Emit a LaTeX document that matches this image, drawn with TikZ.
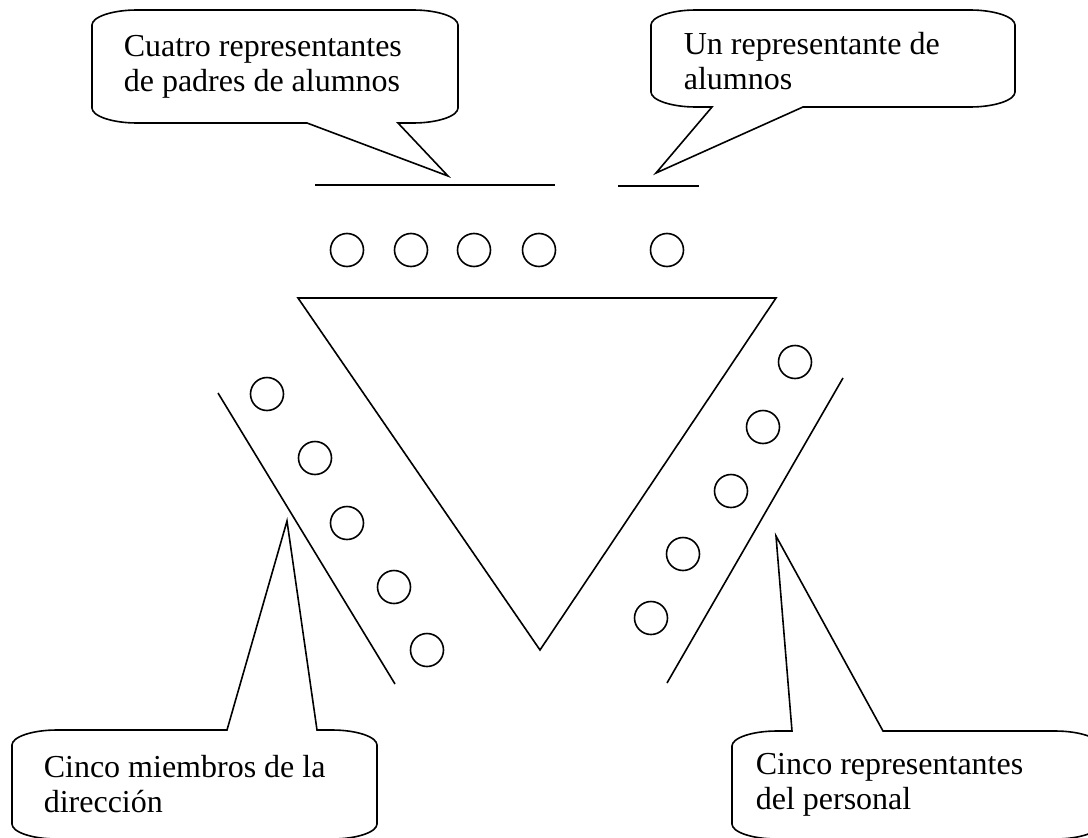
\documentclass[tikz,border=0pt]{standalone}
\usepackage{fontspec}
\setmainfont{Liberation Serif}
\begin{document}
\begin{tikzpicture}[x=1pt,y=-1pt, line width=1.6pt, line join=miter,
  txt/.style={anchor=base west, inner sep=0pt, align=left, font=\fontsize{32}{35}\selectfont},
  ball/.style={circle, draw, minimum size=33pt, inner sep=0pt, line width=1.6pt}]
\useasboundingbox (0,0) rectangle (1088,838);

% tail tips
\coordinate (tipTL) at (448,176);
\coordinate (tipTR) at (656,173);
\coordinate (tipBL) at (287,521);
\coordinate (tipBR) at (776,536);

% callout boxes
\draw (137,10) -- (413,10) .. controls (438,10) and (458,17) .. (458,25) -- (458,108)
  .. controls (458,116) and (438,123) .. (413,123) -- (398,123) -- (tipTL) -- (307,123) -- (137,123)
  .. controls (112,123) and (92,116) .. (92,108) -- (92,25) .. controls (92,17) and (112,10) .. (137,10) -- cycle;
\draw (696,10) -- (970,10) .. controls (995,10) and (1015,17) .. (1015,25) -- (1015,92)
  .. controls (1015,100) and (995,107) .. (970,107) -- (803,107) -- (tipTR) -- (712,107) -- (696,107)
  .. controls (671,107) and (651,100) .. (651,92) -- (651,25) .. controls (651,17) and (671,10) .. (696,10) -- cycle;
\draw (57,730) -- (227,730) -- (tipBL) -- (317,730) -- (332,730) .. controls (357,730) and (377,737) .. (377,745)
  -- (377,824) .. controls (377,832) and (357,839) .. (332,839) -- (57,839)
  .. controls (32,839) and (12,832) .. (12,824) -- (12,745) .. controls (12,737) and (32,730) .. (57,730) -- cycle;
\draw (777,731) -- (792,731) -- (tipBR) -- (883,731) -- (1055,731) .. controls (1080,731) and (1100,738) .. (1100,746)
  -- (1100,824) .. controls (1100,832) and (1080,839) .. (1055,839) -- (777,839)
  .. controls (752,839) and (732,832) .. (732,824) -- (732,746) .. controls (732,738) and (752,731) .. (777,731) -- cycle;

% texts (base anchor = baseline of last line)
\node[txt] (tTL) at (123,91) {Cuatro representantes\\de padres de alumnos};
\node[txt] (tTR) at (683,89) {Un representante de\\alumnos};
\node[txt] (tBL) at (43,812) {Cinco miembros de la\\dirección};
\node[txt] (tBR) at (755,809) {Cinco representantes\\del personal};

% top lines
\coordinate (la1) at (315,185); \coordinate (la2) at (555,185);
\coordinate (lb1) at (618,186); \coordinate (lb2) at (699,186);
\draw (la1) -- (la2);
\draw (lb1) -- (lb2);

% top circles
\node[ball] (c1) at (347,250) {};
\node[ball] (c2) at (411,250) {};
\node[ball] (c3) at (474,250) {};
\node[ball] (c4) at (539,250) {};
\node[ball] (c5) at (667,250) {};

% triangle
\coordinate (triA) at (298,298);
\coordinate (triB) at (776,298);
\coordinate (triC) at (540,650);
\draw (triA) -- (triB) -- (triC) -- cycle;

% side bands
\coordinate (bl1) at (218,393); \coordinate (bl2) at (395,684);
\coordinate (br1) at (843,378); \coordinate (br2) at (667,683);
\draw (bl1) -- (bl2);
\draw (br1) -- (br2);

% left circles
\node[ball] (l1) at (267,394) {};
\node[ball] (l2) at (315,458) {};
\node[ball] (l3) at (347,523) {};
\node[ball] (l4) at (394,587) {};
\node[ball] (l5) at (427,650) {};

% right circles
\node[ball] (r1) at (795,362) {};
\node[ball] (r2) at (763,427) {};
\node[ball] (r3) at (731,491) {};
\node[ball] (r4) at (683,554) {};
\node[ball] (r5) at (651,618) {};
\end{tikzpicture}
\end{document}
